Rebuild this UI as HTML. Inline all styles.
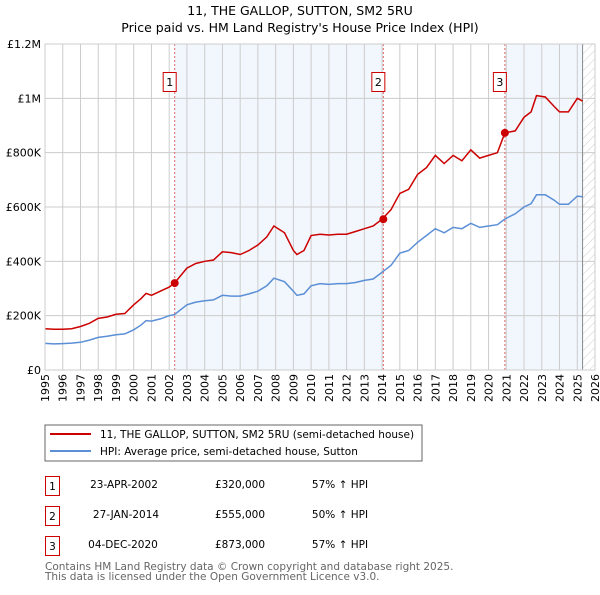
<!DOCTYPE html>
<html><head><meta charset="utf-8"><style>
body{margin:0;background:#fff;}
svg text{font-family:"DejaVu Sans","Liberation Sans",sans-serif;}
</style></head><body>
<svg width="600" height="590" xmlns="http://www.w3.org/2000/svg">
<defs><pattern id="hatch" patternUnits="userSpaceOnUse" width="6" height="6" patternTransform="rotate(45)"><line x1="0" y1="0" x2="0" y2="6" stroke="#ccc" stroke-width="1"/></pattern></defs>
<text x="300" y="15" text-anchor="middle" font-size="12.5">11, THE GALLOP, SUTTON, SM2 5RU</text>
<text x="300" y="32" text-anchor="middle" font-size="12.5">Price paid vs. HM Land Registry's House Price Index (HPI)</text>
<g id="plot"></g>
<rect x="45" y="425" width="377" height="36" fill="#fff" stroke="#666"/>
<line x1="50" y1="434" x2="91" y2="434" stroke="#cc0000" stroke-width="2"/>
<text x="100" y="438" font-size="10.5">11, THE GALLOP, SUTTON, SM2 5RU (semi-detached house)</text>
<line x1="50" y1="451" x2="91" y2="451" stroke="#5b8fd6" stroke-width="2"/>
<text x="100" y="455" font-size="10.5">HPI: Average price, semi-detached house, Sutton</text>
<g font-size="10.5">
<rect x="45.5" y="476.5" width="14" height="19" fill="none" stroke="#cc0000"/><text x="52.5" y="490" text-anchor="middle">1</text>
<text x="124" y="488" text-anchor="middle">23-APR-2002</text><text x="240" y="488" text-anchor="middle">£320,000</text><text x="340" y="488" text-anchor="middle">57% ↑ HPI</text>
<rect x="45.5" y="506.5" width="14" height="19" fill="none" stroke="#cc0000"/><text x="52.5" y="520" text-anchor="middle">2</text>
<text x="126" y="518" text-anchor="middle">27-JAN-2014</text><text x="240" y="518" text-anchor="middle">£555,000</text><text x="340" y="518" text-anchor="middle">50% ↑ HPI</text>
<rect x="45.5" y="536.5" width="14" height="19" fill="none" stroke="#cc0000"/><text x="52.5" y="550" text-anchor="middle">3</text>
<text x="123" y="548" text-anchor="middle">04-DEC-2020</text><text x="240" y="548" text-anchor="middle">£873,000</text><text x="340" y="548" text-anchor="middle">57% ↑ HPI</text>
</g>
<text x="45" y="570" font-size="10.5" fill="#666">Contains HM Land Registry data © Crown copyright and database right 2025.</text>
<text x="45" y="580" font-size="10.5" fill="#666">This data is licensed under the Open Government Licence v3.0.</text>
</svg>
<script>
const yTicks=[0,200000,400000,600000,800000,1000000,1200000];
const yTickLabels=["£0","£200K","£400K","£600K","£800K","£1M","£1.2M"];
const years=[1995,1996,1997,1998,1999,2000,2001,2002,2003,2004,2005,2006,2007,2008,2009,2010,2011,2012,2013,2014,2015,2016,2017,2018,2019,2020,2021,2022,2023,2024,2025,2026];
const saleDates=[2002.31,2014.07,2020.92];
const salePrices=[320000,555000,873000];
const saleLabels=["1","2","3"];
const dataEnd=2025.3;
const hpiDates=[1995,1995.5,1996,1996.5,1997,1997.5,1998,1998.5,1999,1999.5,2000,2000.4,2000.7,2001,2001.5,2002,2002.3,2003,2003.5,2004,2004.5,2005,2005.5,2006,2006.5,2007,2007.5,2007.9,2008.5,2009,2009.2,2009.6,2010,2010.5,2011,2011.5,2012,2012.5,2013,2013.5,2014,2014.5,2015,2015.5,2016,2016.5,2017,2017.5,2018,2018.5,2019,2019.5,2020,2020.5,2020.92,2021.5,2022,2022.4,2022.7,2023.2,2023.7,2024,2024.5,2025,2025.3];
const hpiValues=[98000,96000,97000,99000,102000,110000,120000,124000,130000,133000,148000,165000,182000,180000,188000,200000,204000,240000,250000,255000,258000,275000,272000,272000,280000,290000,310000,338000,325000,290000,275000,280000,310000,318000,315000,318000,318000,322000,330000,335000,360000,385000,430000,440000,470000,495000,520000,505000,525000,520000,540000,525000,530000,535000,556000,575000,600000,612000,645000,645000,625000,610000,610000,640000,638000];
const priceValues=[152000,150000,150000,152000,160000,172000,190000,195000,205000,208000,240000,262000,282000,275000,290000,305000,320000,375000,392000,400000,405000,435000,432000,425000,440000,460000,490000,530000,505000,440000,425000,440000,495000,500000,497000,500000,500000,510000,520000,530000,555000,590000,650000,665000,720000,745000,790000,760000,790000,770000,810000,780000,790000,800000,873000,880000,930000,950000,1010000,1005000,970000,950000,950000,1000000,990000];
const NS="http://www.w3.org/2000/svg";
const L=45,R=595,T=44,B=370,X0=1995,X1=2026,YMAX=1200000;
function xs(v){return L+(v-X0)/(X1-X0)*(R-L);}
function ys(v){return B-v/YMAX*(B-T);}
const g=document.getElementById('plot');
function mk(tag,attrs){const e=document.createElementNS(NS,tag);for(const k in attrs)e.setAttribute(k,attrs[k]);g.appendChild(e);return e;}
let e;
e=mk('rect',{x:L,y:T,width:R-L,height:B-T,fill:'#fff'});


e=mk('rect',{x:xs(saleDates[0]),y:T,width:xs(saleDates[1])-xs(saleDates[0]),height:B-T,fill:'#f2f6fd'});


e=mk('rect',{x:xs(saleDates[2]),y:T,width:xs(dataEnd)-xs(saleDates[2]),height:B-T,fill:'#f2f6fd'});


e=mk('rect',{x:xs(dataEnd),y:T,width:R-xs(dataEnd),height:B-T,fill:'url(#hatch)'});


years.forEach(y=>{
 e=mk('line',{x1:xs(y),x2:xs(y),y1:T,y2:B,stroke:'#ccc','stroke-width':1});
 
 
 e=mk('text',{x:0,y:0,'font-size':11,'text-anchor':'end',transform:`translate(${xs(y)+4},374) rotate(-90)`});
 e.textContent=y;
 
 
});
yTicks.forEach((v,i)=>{
 e=mk('line',{x1:L,x2:R,y1:ys(v),y2:ys(v),stroke:'#ccc','stroke-width':1});
 
 
 e=mk('text',{x:L-4,y:ys(v)+4,'font-size':11,'text-anchor':'end'});
 e.textContent=yTickLabels[i];
 
 
});
e=mk('line',{x1:xs(dataEnd),x2:xs(dataEnd),y1:T,y2:B,stroke:'#888','stroke-width':1});


saleDates.forEach((d,i)=>{
 e=mk('line',{x1:xs(d),x2:xs(d),y1:T,y2:B,stroke:'#e06666','stroke-width':1,'stroke-dasharray':'2,2'});
 
 
 e=mk('rect',{x:xs(d)-11.5,y:72.5,width:13,height:19,fill:'#fff',stroke:'#cc0000'});
 
 
 e=mk('text',{x:xs(d)-5,y:86,'font-size':11,'text-anchor':'middle'});
 e.textContent=saleLabels[i];
 
 
});
function path(ds,vs){return ds.map((d,i)=>(i?'L':'M')+xs(d).toFixed(1)+','+ys(vs[i]).toFixed(1)).join(' ');}
e=mk('path',{d:path(hpiDates,hpiValues),fill:'none',stroke:'#5b8fd6','stroke-width':1.5});


e=mk('path',{d:path(hpiDates,priceValues),fill:'none',stroke:'#cc0000','stroke-width':1.5});


saleDates.forEach((d,i)=>{
 e=mk('circle',{cx:xs(d),cy:ys(salePrices[i]),r:4,fill:'#cc0000'});
 
 
});
e=mk('rect',{x:L,y:T,width:R-L,height:B-T,fill:'none',stroke:'#ccc'});


</script>
</body></html>
